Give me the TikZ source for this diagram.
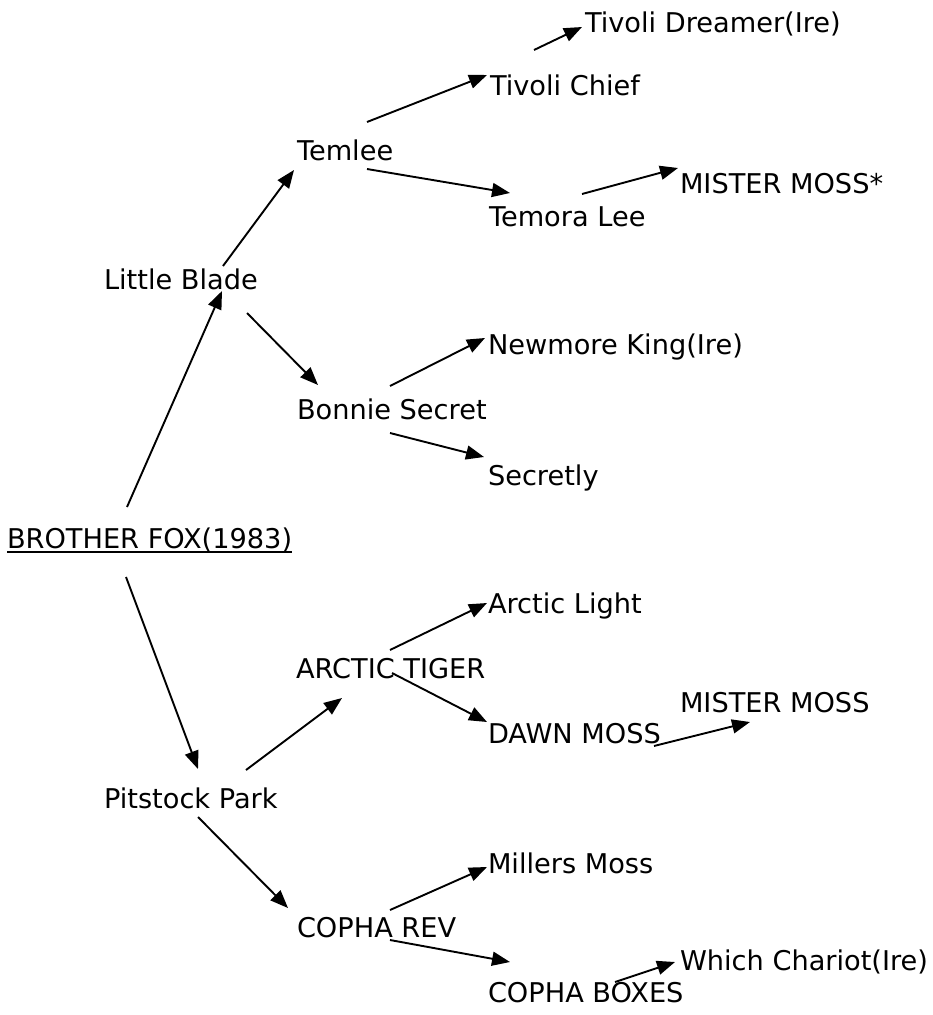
\documentclass[tikz,border=0pt]{standalone}
\usepackage{fontspec}
\setmainfont{DejaVu Sans}
\usetikzlibrary{arrows.meta}
\begin{document}
\begin{tikzpicture}[x=1pt,y=-1pt,
  lbl/.style={anchor=base west,inner sep=0pt,outer sep=0pt,font=\fontsize{27.2}{32}\selectfont},
  arr/.style={-{Triangle[length=18pt,width=14pt]},line width=1.9pt}]
\useasboundingbox (0,0) rectangle (932,1015);
\node[lbl] (bf)  at (7,548)   {BROTHER FOX(1983)};
\node[lbl] (lb)  at (104,289) {Little Blade};
\node[lbl] (tem) at (297,160) {Temlee};
\node[lbl] (tc)  at (490,95)  {Tivoli Chief};
\node[lbl] (td)  at (585,32)  {Tivoli Dreamer(Ire)};
\node[lbl] (tl)  at (489,226) {Temora Lee};
\node[lbl] (mma) at (680,193) {MISTER MOSS*};
\node[lbl] (bs)  at (297,419) {Bonnie Secret};
\node[lbl] (nk)  at (488,354) {Newmore King(Ire)};
\node[lbl] (sec) at (488,485) {Secretly};
\node[lbl] (pp)  at (104,808) {Pitstock Park};
\node[lbl] (at)  at (296,678) {ARCTIC TIGER};
\node[lbl] (al)  at (488,613) {Arctic Light};
\node[lbl] (dm)  at (488,743) {DAWN MOSS};
\node[lbl] (mmb) at (680,712) {MISTER MOSS};
\node[lbl] (cr)  at (297,937) {COPHA REV};
\node[lbl] (mil) at (488,873) {Millers Moss};
\node[lbl] (cb)  at (488,1002) {COPHA BOXES};
\node[lbl] (wc)  at (680,970) {Which Chariot(Ire)};
% underline of the root
\draw[line width=1.8pt] ([shift={(0,4)}]bf.base west) -- ([shift={(0,4)}]bf.base east);
% connectors
\draw[arr] ([shift={(120,-41)}]bf.base west) -- ([shift={(118,2)}]lb.base west);
\draw[arr] ([shift={(119,-23)}]lb.base west) -- ([shift={(-3,10)}]tem.base west);
\draw[arr] ([shift={(143,24)}]lb.base west) -- ([shift={(21,-34)}]bs.base west);
\draw[arr] ([shift={(70,-38)}]tem.base west) -- ([shift={(-3,-20)}]tc.base west);
\draw[arr] ([shift={(70,9)}]tem.base west) -- ([shift={(21,-33)}]tl.base west);
\draw[arr] ([shift={(44,-45)}]tc.base west) -- ([shift={(-3,-5)}]td.base west);
\draw[arr] ([shift={(93,-32)}]tl.base west) -- ([shift={(-2,-25)}]mma.base west);
\draw[arr] ([shift={(93,-33)}]bs.base west) -- ([shift={(-3,-16)}]nk.base west);
\draw[arr] ([shift={(93,14)}]bs.base west) -- ([shift={(-4,-28)}]sec.base west);
\draw[arr] ([shift={(119,29)}]bf.base west) -- ([shift={(94,-39)}]pp.base west);
\draw[arr] ([shift={(142,-38)}]pp.base west) -- ([shift={(46,20)}]at.base west);
\draw[arr] ([shift={(94,9)}]pp.base west) -- ([shift={(-9,-29)}]cr.base west);
\draw[arr] ([shift={(94,-28)}]at.base west) -- ([shift={(-1,-10)}]al.base west);
\draw[arr] ([shift={(96,-5)}]at.base west) -- ([shift={(-1,-21)}]dm.base west);
\draw[arr] ([shift={(166,3)}]dm.base west) -- ([shift={(70,10)}]mmb.base west);
\draw[arr] ([shift={(93,-27)}]cr.base west) -- ([shift={(-1,-6)}]mil.base west);
\draw[arr] ([shift={(93,3)}]cr.base west) -- ([shift={(22,-40)}]cb.base west);
\draw[arr] ([shift={(127,-20)}]cb.base west) -- ([shift={(-5,-8)}]wc.base west);
\end{tikzpicture}
\end{document}
